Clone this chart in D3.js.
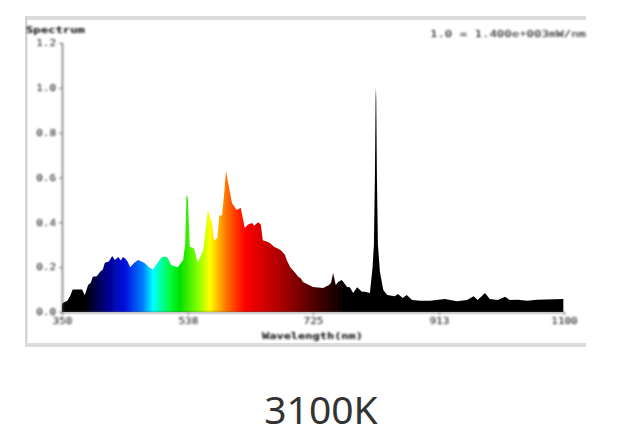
<!DOCTYPE html>
<html><head><meta charset="utf-8">
<script src="https://cdn.jsdelivr.net/npm/d3@7"></script>
<style>html,body{margin:0;padding:0;background:#fff}svg{display:block}</style></head>
<body><svg id="c" width="626" height="448"></svg>
<script>
const wavelengths=[350,351,358,362,366,380,384,389,393,396,402,407,411,414,420,425,429,434,438,441,444,448,452,458,464,474,480,486,493,499,507,513,523,531,534,536,538,541,547,553,561,568,574,577,582,585,589,592,595,598,604,611,617,623,628,634,637,643,647,650,656,661,667,671,677,683,686,691,697,703,707,710,716,725,740,749,752,755,759,763,768,776,780,785,791,798,803,810,814,816,817.5,818.5,819,819.5,820.5,822,825,830,836,847,852,859,865,873,885,900,922,940,955,965,971,982,989,1001,1012,1019,1031,1045,1060,1099];
const intensity=[0.03,0.04,0.05,0.07,0.10,0.10,0.075,0.12,0.13,0.157,0.16,0.18,0.19,0.22,0.225,0.25,0.232,0.245,0.23,0.245,0.24,0.225,0.20,0.22,0.232,0.218,0.20,0.19,0.22,0.245,0.245,0.21,0.20,0.232,0.30,0.522,0.51,0.29,0.285,0.22,0.277,0.455,0.397,0.32,0.33,0.43,0.43,0.52,0.63,0.58,0.485,0.455,0.465,0.375,0.39,0.397,0.385,0.40,0.39,0.32,0.315,0.307,0.29,0.285,0.275,0.255,0.23,0.20,0.18,0.157,0.15,0.134,0.125,0.112,0.107,0.12,0.13,0.174,0.12,0.135,0.143,0.112,0.11,0.085,0.11,0.09,0.09,0.085,0.20,0.30,0.60,0.95,1.0,0.95,0.60,0.30,0.18,0.098,0.076,0.07,0.08,0.062,0.076,0.053,0.05,0.05,0.058,0.048,0.053,0.07,0.053,0.085,0.058,0.053,0.068,0.053,0.055,0.05,0.055,0.058];
const stopNm=[350,384,414,444,471,486,511,526,552,571,596,623,683,735,773];
const stopColors=["#000000","#000000","#000080","#0010e0","#0080ff","#00ffff","#00ff40","#00e000","#80ff00","#ffff00","#ff7000","#ff0000","#a00000","#400000","#000000"];
const xTicks=[350,538,725,913,1100];
const yTicks=[0,0.2,0.4,0.6,0.8,1.0,1.2];
const titleLeft="Spectrum",titleRight="1.0 = 1.400e+003mW/nm",xTitle="Wavelength(nm)",caption="3100K";

const svg=d3.select("#c");
const x=d3.scaleLinear().domain([350,1100]).range([62,564]);
const y=d3.scaleLinear().domain([0,1.2]).range([312,43]);
const defs=svg.append("defs");
const blur=(id,s)=>defs.append("filter").attr("id",id).attr("filterUnits","userSpaceOnUse")
  .attr("x",0).attr("y",0).attr("width",626).attr("height",448)
  .append("feGaussianBlur").attr("stdDeviation",s);
blur("soft",0.7);blur("softer",0.85);
const g=defs.append("linearGradient").attr("id","spec").attr("gradientUnits","userSpaceOnUse")
  .attr("x1",x(350)).attr("x2",x(1100)).attr("y1",0).attr("y2",0);
stopNm.forEach((n,i)=>g.append("stop").attr("offset",(n-350)/750).attr("stop-color",stopColors[i]));

const p=svg.append("g").attr("filter","url(#soft)");
p.append("rect").attr("x",25).attr("y",16).attr("width",561).attr("height",4).attr("fill","#dcdcdc");
p.append("rect").attr("x",25).attr("y",16).attr("width",2.5).attr("height",331).attr("fill","#d4d4d4");
p.append("rect").attr("x",25).attr("y",343).attr("width",561).attr("height",4).attr("fill","#dcdcdc");

const area=d3.area().x(d=>x(d[0])).y0(y(0)).y1(d=>y(d[1]));
p.append("path").datum(wavelengths.map((w,i)=>[w,intensity[i]])).attr("d",area).attr("fill","url(#spec)");

const tx=svg.append("g").attr("filter","url(#softer)");
const xa=tx.append("g").attr("transform","translate(0,312)").call(d3.axisBottom(x).tickValues(xTicks).tickSize(3).tickFormat(d3.format("d")));
const ya=tx.append("g").attr("transform","translate(62,0)").call(d3.axisLeft(y).tickValues(yTicks).tickSize(3).tickFormat(d3.format(".1f")));
[xa,ya].forEach(a=>{a.selectAll("path").attr("stroke","#555").attr("stroke-width",1.2);
  a.selectAll("line").attr("stroke","#666");
  a.selectAll("text").attr("font-family","DejaVu Sans Mono").attr("font-size",8.5).attr("fill","#111")
   .attr("lengthAdjust","spacingAndGlyphs").attr("textLength",function(){return this.textContent.length*6.6;});});
xa.selectAll("text").attr("y",6);
ya.selectAll("text").attr("x",-6);

const t=(s,px,py,a,w)=>tx.append("text").text(s).attr("x",px).attr("y",py).attr("text-anchor",a)
  .attr("font-family","DejaVu Sans Mono").attr("font-size",8.3).attr("fill","#000")
  .attr("lengthAdjust","spacingAndGlyphs").attr("textLength",w);
t(titleLeft,26,33,"start",59).attr("font-weight","bold");
t(titleRight,586,37,"end",156);
t(xTitle,262,339,"start",101).attr("font-weight","bold");

svg.append("text").text(caption).attr("x",321).attr("y",424).attr("text-anchor","middle")
  .attr("font-family","Noto Sans").attr("font-size",39).attr("fill","#333");
</script></body></html>
